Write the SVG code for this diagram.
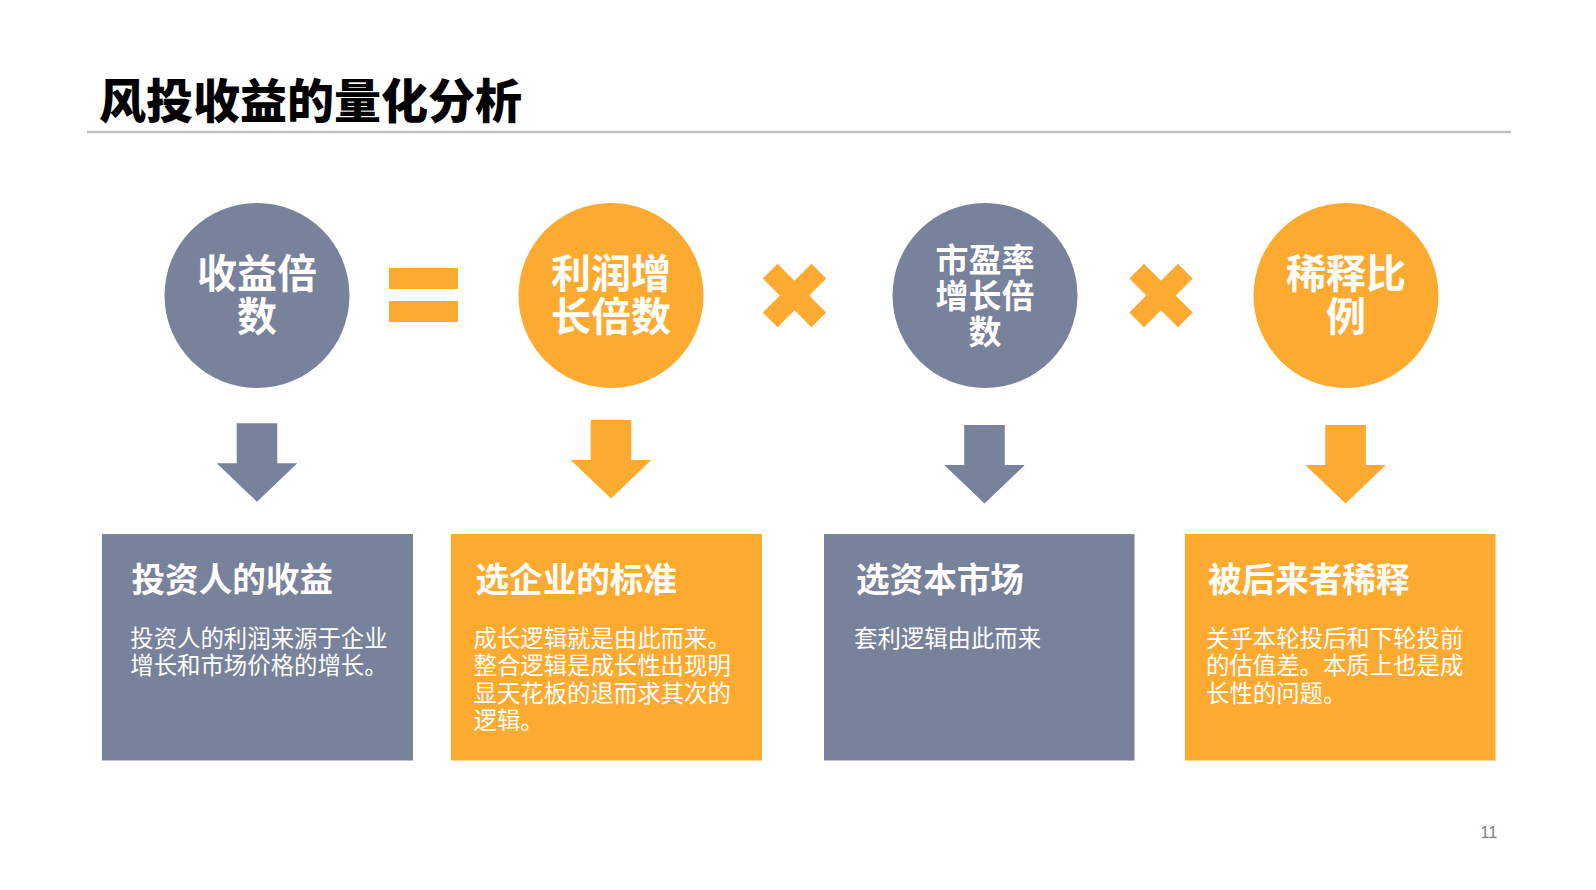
<svg xmlns="http://www.w3.org/2000/svg" width="1596" height="890" viewBox="0 0 1596 890">
  <defs>
    <style>
      .gray { fill: #78829A; }
      .orange { fill: #FDAA30; }
      .t { font-family: "Noto Sans CJK SC", "Liberation Sans", sans-serif; fill: #FFFFFF; }
      .circ { font-size: 40px; font-weight: 700; text-anchor: middle; }
      .circ3 { font-size: 33px; font-weight: 700; text-anchor: middle; }
      .bt { font-size: 33.6px; font-weight: 700; }
      .bb { font-size: 23.4px; font-weight: 400; }
      .pn { font-family: "Liberation Sans", Arial, sans-serif; font-size: 16.5px; fill: #7F7F7F; text-anchor: end; }
      .ttl { font-family: "Noto Sans CJK SC", "Liberation Sans", sans-serif; font-size: 47px; font-weight: 900; fill: #000000; }
    </style>
    <path id="darrow" d="M -20.3 0 H 20.3 V 40 H 40.3 L 0 78.5 L -40.3 40 H -20.3 Z"/>
    <g id="times">
      <rect x="-34.4" y="-10.4" width="68.8" height="20.8" transform="rotate(45)"/>
      <rect x="-34.4" y="-10.4" width="68.8" height="20.8" transform="rotate(-45)"/>
    </g>
  </defs>
  <rect width="1596" height="890" fill="#FFFFFF"/>

  <g id="title">
    <text class="ttl" x="99" y="118">风投收益的量化分析</text>
    <line x1="87" y1="132" x2="1511" y2="132" stroke="#BFBFBF" stroke-width="2.5"/>
  </g>

  <g id="node-shouyi">
    <circle class="gray" cx="257" cy="295.5" r="92.5"/>
    <text class="t circ"><tspan x="257" y="288">收益倍</tspan><tspan x="257" y="331">数</tspan></text>
  </g>
  <g id="op-equals" class="orange">
    <rect x="389" y="268" width="69" height="21"/>
    <rect x="389" y="301" width="69" height="21"/>
  </g>
  <g id="node-lirun">
    <circle class="orange" cx="611" cy="295.5" r="92.5"/>
    <text class="t circ"><tspan x="611" y="288">利润增</tspan><tspan x="611" y="331">长倍数</tspan></text>
  </g>
  <g id="op-times-1" class="orange">
    <use href="#times" transform="translate(794.5,295.5)"/>
  </g>
  <g id="node-shiying">
    <circle class="gray" cx="985" cy="295.5" r="92.5"/>
    <text class="t circ3"><tspan x="985" y="271.5">市盈率</tspan><tspan x="985" y="308">增长倍</tspan><tspan x="985" y="344">数</tspan></text>
  </g>
  <g id="op-times-2" class="orange">
    <use href="#times" transform="translate(1161,295.5)"/>
  </g>
  <g id="node-xishi">
    <circle class="orange" cx="1346" cy="295.5" r="92.5"/>
    <text class="t circ"><tspan x="1346" y="288">稀释比</tspan><tspan x="1346" y="331">例</tspan></text>
  </g>

  <g id="connectors">
    <use href="#darrow" class="gray" transform="translate(257,423.3)"/>
    <use href="#darrow" class="orange" transform="translate(611,420)"/>
    <use href="#darrow" class="gray" transform="translate(984.5,425)"/>
    <use href="#darrow" class="orange" transform="translate(1345.6,425)"/>
  </g>

  <g id="box-touziren">
    <rect class="gray" x="102" y="534" width="311" height="226.5"/>
    <text class="t bt" x="131.5" y="592">投资人的收益</text>
    <text class="t bb"><tspan x="130.3" y="646.5">投资人的利润来源于企业</tspan><tspan x="130.3" y="674">增长和市场价格的增长。</tspan></text>
  </g>
  <g id="box-xuanqiye">
    <rect class="orange" x="451" y="534" width="311" height="226.5"/>
    <text class="t bt" x="475.5" y="592">选企业的标准</text>
    <text class="t bb"><tspan x="473.5" y="646.5">成长逻辑就是由此而来。</tspan><tspan x="473.5" y="674">整合逻辑是成长性出现明</tspan><tspan x="473.5" y="701.5">显天花板的退而求其次的</tspan><tspan x="473.5" y="729">逻辑。</tspan></text>
  </g>
  <g id="box-xuanziben">
    <rect class="gray" x="824" y="534" width="310.5" height="226.5"/>
    <text class="t bt" x="856" y="592">选资本市场</text>
    <text class="t bb" x="854" y="646.5">套利逻辑由此而来</text>
  </g>
  <g id="box-beihoulaizhe">
    <rect class="orange" x="1185" y="534" width="310.5" height="226.5"/>
    <text class="t bt" x="1208" y="592">被后来者稀释</text>
    <text class="t bb"><tspan x="1206" y="646.5">关乎本轮投后和下轮投前</tspan><tspan x="1206" y="674">的估值差。本质上也是成</tspan><tspan x="1206" y="701.5">长性的问题。</tspan></text>
  </g>

  <text id="page-number" class="pn" x="1497.5" y="837.5">11</text>
</svg>
